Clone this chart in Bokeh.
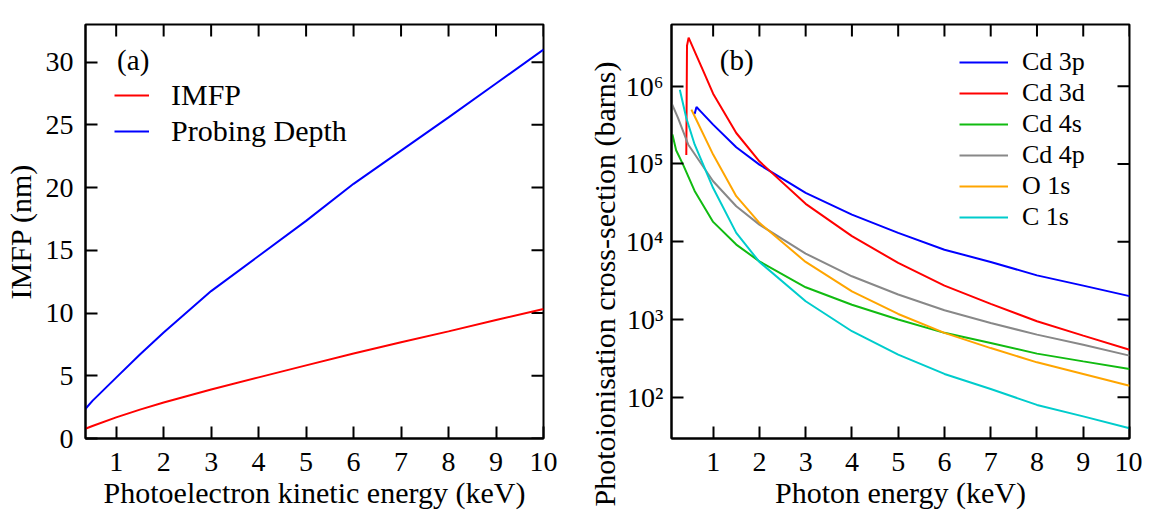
import math
from bokeh.plotting import figure
from bokeh.layouts import row
from bokeh.models import (Range1d, FixedTicker, Legend, LegendItem,
                          Label, Title, CustomJSTickFormatter)
from bokeh.embed import file_html
from bokeh.resources import INLINE

FONT = "Liberation Serif"

# ---------------- panel (a) data ----------------
ke = [0.35, 0.5, 1, 1.5, 2, 3, 4, 5, 6, 7, 8, 9, 10]
imfp = [0.78, 1.0, 1.68, 2.3, 2.87, 3.9, 4.87, 5.83, 6.78, 7.67, 8.54, 9.45, 10.33]
depth = [2.35, 3.0, 4.85, 6.7, 8.45, 11.75, 14.55, 17.35, 20.3, 22.95, 25.6, 28.3, 31.0]
a_xticks = [1, 2, 3, 4, 5, 6, 7, 8, 9, 10]
a_yticks = [0, 5, 10, 15, 20, 25, 30]

# ---------------- panel (b) data ----------------
cd3p_x = [0.60, 0.64, 0.75, 1, 1.5, 2, 3, 4, 5, 6, 7, 8, 9, 10]
cd3p_y = [4.4e5, 5.4e5, 4.6e5, 3.2e5, 1.64e5, 9.8e4, 4.25e4, 2.23e4, 1.3e4, 7.9e3, 5.5e3, 3.7e3, 2.73e3, 2.0e3]
cd3d_x = [0.42, 0.435, 0.47, 0.6, 0.8, 1, 1.5, 2, 3, 4, 5, 6, 7, 8, 9, 10]
cd3d_y = [1.3e5, 3.3e6, 4.2e6, 2.8e6, 1.5e6, 8.0e5, 2.5e5, 1.08e5, 3.07e4, 1.18e4, 5.35e3, 2.73e3, 1.59e3, 950, 621, 410]
cd4s_x = [0.12, 0.2, 0.35, 0.6, 1, 1.5, 2, 3, 4, 5, 6, 7, 8, 9, 10]
cd4s_y = [2.4e5, 1.5e5, 9.8e4, 4.5e4, 1.8e4, 9.2e3, 5.6e3, 2.6e3, 1.55e3, 1000, 675, 500, 365, 290, 231]
cd4p_x = [0.1, 0.24, 0.46, 1, 1.5, 2, 3, 4, 5, 6, 7, 8, 9, 10]
cd4p_y = [6.1e5, 3.9e5, 1.78e5, 6.0e4, 2.86e4, 1.66e4, 7.05e3, 3.6e3, 2.1e3, 1.32e3, 904, 640, 475, 344]
o1s_x = [0.53, 0.6, 1, 1.5, 2, 3, 4, 5, 6, 7, 8, 9, 10]
o1s_y = [5.0e5, 4.1e5, 1.32e5, 3.85e4, 1.75e4, 5.5e3, 2.3e3, 1.18e3, 675, 430, 282, 200, 141]
c1s_x = [0.28, 0.42, 0.6, 1, 1.5, 2, 3, 4, 5, 6, 7, 8, 9, 10]
c1s_y = [9.0e5, 3.9e5, 1.78e5, 4.9e4, 1.3e4, 5.5e3, 1.72e3, 708, 355, 200, 128, 80, 57, 40]
b_xticks = [1, 2, 3, 4, 5, 6, 7, 8, 9, 10]
b_yticks = [1e2, 1e3, 1e4, 1e5, 1e6]

series_b = [
    ("Cd 3p", cd3p_x, cd3p_y, "#0000ff"),
    ("Cd 3d", cd3d_x, cd3d_y, "#ff0000"),
    ("Cd 4s", cd4s_x, cd4s_y, "#11bb11"),
    ("Cd 4p", cd4p_x, cd4p_y, "#888888"),
    ("O 1s", o1s_x, o1s_y, "#ffa500"),
    ("C 1s", c1s_x, c1s_y, "#00cccc"),
]

TICK_PX = "28px"
LABEL_PX = "30px"
TICK_LEN = 12
FW, FH = 458, 414


def style_axis(ax):
    ax.axis_line_width = 2
    ax.axis_line_color = "black"
    ax.major_tick_in = TICK_LEN
    ax.major_tick_out = 0
    ax.major_tick_line_color = "black"
    ax.major_tick_line_width = 2
    ax.minor_tick_line_color = None
    ax.major_label_text_font = FONT
    ax.major_label_text_color = "black"
    ax.major_label_text_font_size = TICK_PX
    ax.axis_label_text_font = FONT
    ax.axis_label_text_font_style = "normal"
    ax.axis_label_text_color = "black"
    ax.axis_label_text_font_size = LABEL_PX


def mirror_ticks(p, xticks, yticks, xr, yr, ylog=False):
    """Tick marks on the top and right frame edges, pointing inward."""
    dx = TICK_LEN / FW * (xr[1] - xr[0])
    if ylog:
        f = 10 ** (TICK_LEN / FH * (math.log10(yr[1]) - math.log10(yr[0])))
        yt1 = yr[1] / f
    else:
        yt1 = yr[1] - TICK_LEN / FH * (yr[1] - yr[0])
    n, m = len(xticks), len(yticks)
    p.segment(x0=xticks, y0=[yr[1]] * n, x1=xticks, y1=[yt1] * n,
              line_color="black", line_width=2)
    p.segment(x0=[xr[1]] * m, y0=yticks, x1=[xr[1] - dx] * m, y1=yticks,
              line_color="black", line_width=2)


# ---------------- figure (a) ----------------
A_X = (0.354, 10)
A_Y = (0, 33)
pa = figure(frame_width=FW, frame_height=FH,
            x_range=Range1d(*A_X), y_range=Range1d(*A_Y),
            output_backend="svg", toolbar_location=None,
            min_border_left=83, min_border_right=34, min_border_top=24, min_border_bottom=70)
pa.grid.visible = False
pa.outline_line_color = "black"
pa.outline_line_width = 2
pa.xaxis.ticker = FixedTicker(ticks=a_xticks)
pa.yaxis.ticker = FixedTicker(ticks=a_yticks)
pa.xaxis.axis_label = "Photoelectron kinetic energy (keV)"
pa.yaxis.axis_label = "IMFP (nm)"
for ax in pa.xaxis + pa.yaxis:
    style_axis(ax)
pa.xaxis.major_label_standoff = 14
pa.xaxis.axis_label_standoff = 2
pa.yaxis.major_label_standoff = 12
pa.yaxis.axis_label_standoff = 6
mirror_ticks(pa, a_xticks, a_yticks, A_X, A_Y)

r_imfp = pa.line(ke, imfp, line_color="#ff0000", line_width=2)
r_depth = pa.line(ke, depth, line_color="#0000ff", line_width=2)
leg_a = Legend(items=[LegendItem(label="IMFP", renderers=[r_imfp]),
                      LegendItem(label="Probing Depth", renderers=[r_depth])],
               location=(29, 290))
leg_a.border_line_color = None
leg_a.background_fill_alpha = 0
leg_a.padding = 0
leg_a.margin = 0
leg_a.glyph_width = 35
leg_a.glyph_height = 20
leg_a.label_standoff = 22
leg_a.spacing = 2
leg_a.label_text_font = FONT
leg_a.label_text_font_size = "30px"
leg_a.label_text_color = "black"
leg_a.label_height = 20
pa.add_layout(leg_a)
pa.add_layout(Label(x=1.02, y=30.15, text="(a)", text_font=FONT, text_font_size="29px",
                    text_baseline="middle", text_color="black"))

# ---------------- figure (b) ----------------
B_X = (0.1, 10)
B_Y = (29.6, 6.2e6)
pb = figure(frame_width=FW, frame_height=FH,
            x_range=Range1d(*B_X), y_range=Range1d(*B_Y), y_axis_type="log",
            output_backend="svg", toolbar_location=None,
            min_border_left=94, min_border_right=13, min_border_top=24, min_border_bottom=70)
pb.grid.visible = False
pb.outline_line_color = "black"
pb.outline_line_width = 2
sup_fmt = CustomJSTickFormatter(code="""
const sup = {"0":"\u2070","1":"\u00b9","2":"\u00b2","3":"\u00b3","4":"\u2074","5":"\u2075","6":"\u2076","7":"\u2077","8":"\u2078","9":"\u2079"};
const e = Math.round(Math.log10(tick));
return "10" + String(e).split("").map(c => sup[c]).join("");
""")
pb.xaxis.ticker = FixedTicker(ticks=b_xticks)
pb.yaxis.ticker = FixedTicker(ticks=b_yticks)
pb.yaxis.formatter = sup_fmt
pb.xaxis.axis_label = "Photon energy (keV)"
for ax in pb.xaxis + pb.yaxis:
    style_axis(ax)
pb.xaxis.major_label_standoff = 14
pb.xaxis.axis_label_standoff = 2
pb.yaxis.major_label_standoff = 8
pb.add_layout(Title(text="Photoionisation cross-section (barns)", align="left", offset=-68,
                    text_font=FONT, text_font_size=LABEL_PX, text_font_style="normal",
                    text_color="black", standoff=4), "left")
mirror_ticks(pb, b_xticks, b_yticks, B_X, B_Y, ylog=True)

items_b = []
for name, xs, ys, col in series_b:
    r = pb.line(xs, ys, line_color=col, line_width=2)
    items_b.append(LegendItem(label=name, renderers=[r]))
leg_b = Legend(items=items_b, location=(288, 206))
leg_b.border_line_color = None
leg_b.background_fill_alpha = 0
leg_b.padding = 0
leg_b.margin = 0
leg_b.glyph_width = 49
leg_b.glyph_height = 20
leg_b.label_standoff = 14
leg_b.spacing = 1
leg_b.label_text_font = FONT
leg_b.label_text_font_size = "26px"
leg_b.label_text_color = "black"
leg_b.label_height = 20
pb.add_layout(leg_b)
pb.add_layout(Label(x=1.145, y=2.15e6, text="(b)", text_font=FONT, text_font_size="29px",
                    text_baseline="middle", text_color="black"))

layout = row(pa, pb)
open("out.html", "w").write(file_html(layout, INLINE))
